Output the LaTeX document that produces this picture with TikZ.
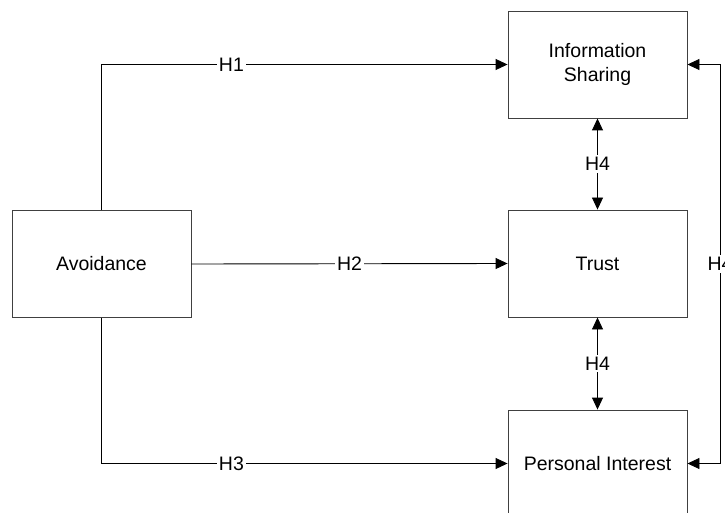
\documentclass[tikz,border=0pt]{standalone}
\usepackage{fontspec}
\setmainfont{Liberation Sans}
\usetikzlibrary{arrows.meta}
\begin{document}
\begin{tikzpicture}[x=1pt,y=-1pt,
  box/.style={draw=black!75,line width=0.9pt,fill=white,minimum width=179pt,minimum height=107pt,inner sep=0pt,align=center,font=\fontsize{19.5}{24}\selectfont},
  conn/.style={draw=black,line width=0.9pt,-{Triangle[length=12pt,width=11pt]}},
  biconn/.style={draw=black,line width=0.9pt,{Triangle[length=12pt,width=11pt]}-{Triangle[length=12pt,width=11pt]}},
  lbl/.style={fill=white,inner sep=2pt,font=\fontsize{19.5}{24}\selectfont}]
\useasboundingbox (0,0) rectangle (725,513);
\clip (0,0) rectangle (725,513);
\node[box] (is) at (597.5,64.5) {Information\\Sharing};
\node[box] (trust) at (597.5,263.5) {Trust};
\node[box] (pi) at (597.5,463.5) {Personal Interest};
\node[box] (av) at (101.5,264) {Avoidance};
\coordinate (c1) at (720,64.5);
\coordinate (c2) at (720,463.5);
\draw[conn] (av.north) |- node[lbl,pos=0.66]{H1} (is.west);
\draw[conn] (av.east) -- node[lbl]{H2} (trust.west);
\draw[conn] (av.south) |- node[lbl,pos=0.66]{H3} (pi.west);
\draw[biconn] (is.south) -- node[lbl]{H4} (trust.north);
\draw[biconn] (trust.south) -- node[lbl]{H4} (pi.north);
\draw[biconn] (is.east) -- (c1) -- node[lbl,pos=0.5]{H4} (c2) -- (pi.east);
\end{tikzpicture}
\end{document}
